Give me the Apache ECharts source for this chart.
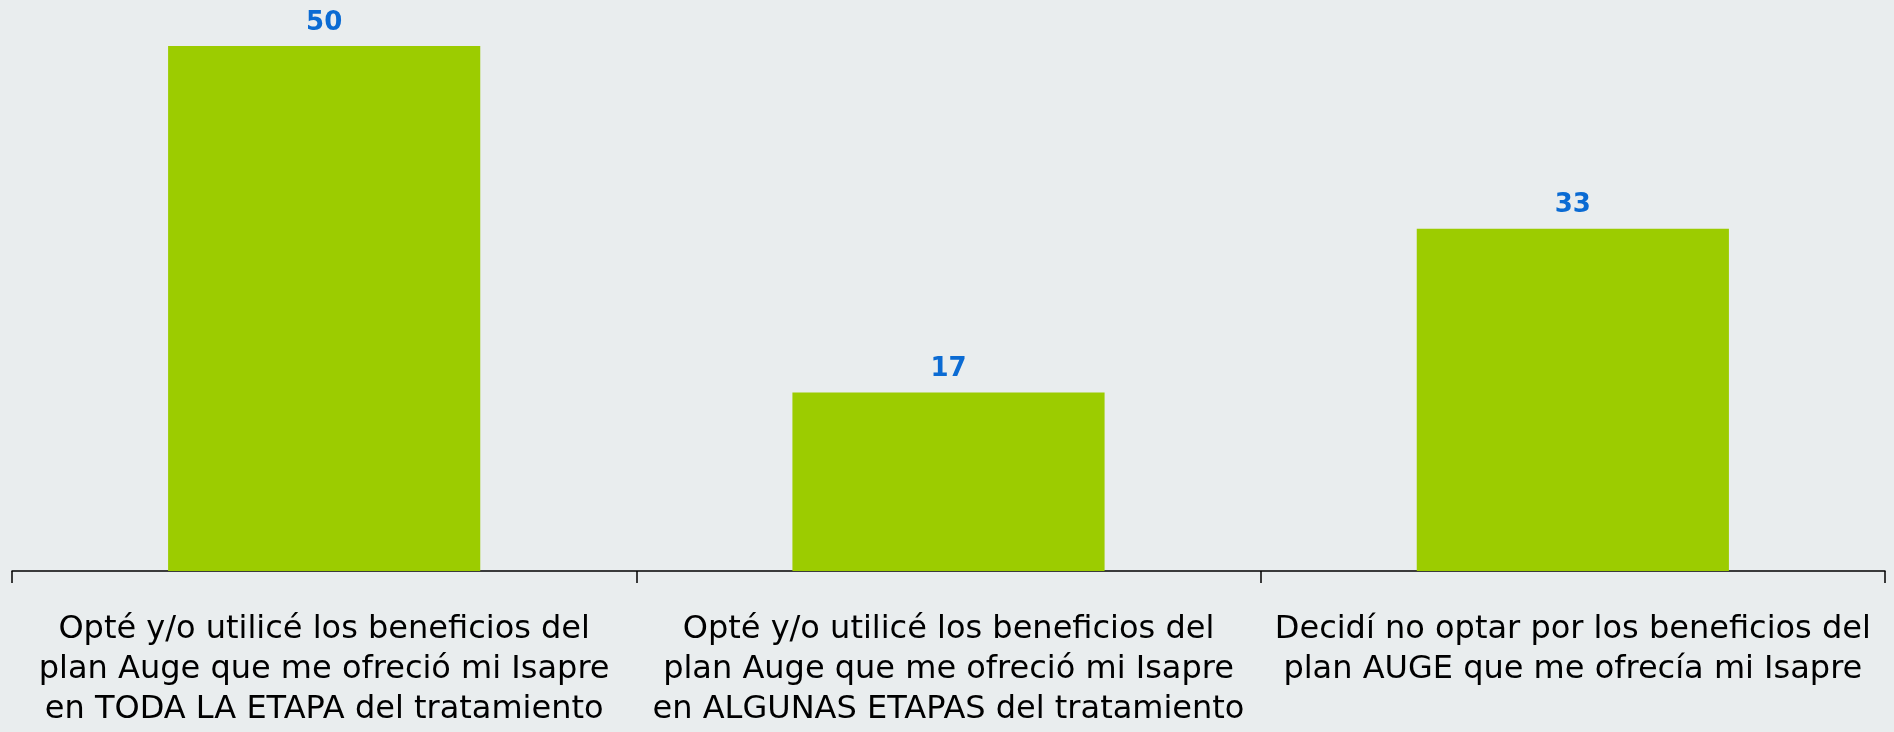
<!DOCTYPE html>
<html>
<head>
<meta charset="utf-8">
<script src="https://cdn.jsdelivr.net/npm/echarts@6/dist/echarts.min.js"></script>
<style>
  html, body { margin: 0; padding: 0; background: #e9edee; }
  #chart { width: 1894px; height: 732px; }
</style>
</head>
<body>
<div id="chart"></div>
<script>
// categorias (eje X)
const categories = [
  'Opté y/o utilicé los beneficios del\nplan Auge que me ofreció mi Isapre\nen TODA LA ETAPA del tratamiento',
  'Opté y/o utilicé los beneficios del\nplan Auge que me ofreció mi Isapre\nen ALGUNAS ETAPAS del tratamiento',
  'Decidí no optar por los beneficios del\nplan AUGE que me ofrecía mi Isapre'
];
const values = [50, 17, 32.6];

const chart = echarts.init(document.getElementById('chart'));
chart.setOption({
  backgroundColor: '#e9edee',
  animation: false,
  grid: {
    top: 46,
    left: 12,
    right: 9,
    bottom: 161
  },
  xAxis: {
    type: 'category',
    data: categories,
    boundaryGap: true,
    axisLine: {
      lineStyle: { color: '#000', width: 1.5 }
    },
    axisTick: {
      show: true,
      length: 12,
      lineStyle: { color: '#000', width: 1.5 }
    },
    axisLabel: {
      interval: 0,
      margin: 39,
      fontFamily: 'DejaVu Sans',
      fontSize: 32,
      lineHeight: 40,
      color: '#000',
      align: 'center'
    }
  },
  yAxis: {
    type: 'value',
    min: 0,
    max: 50,
    show: false
  },
  series: [
    {
      type: 'bar',
      data: values,
      barWidth: '50%',
      itemStyle: { color: '#9ccc00' },
      label: {
        show: true,
        position: 'top',
        distance: 10,
        fontFamily: 'DejaVu Sans',
        fontWeight: 'bold',
        fontSize: 26,
        color: '#0b6bd3',
        formatter: (p) => Math.round(p.value)
      }
    }
  ]
});
</script>
</body>
</html>
